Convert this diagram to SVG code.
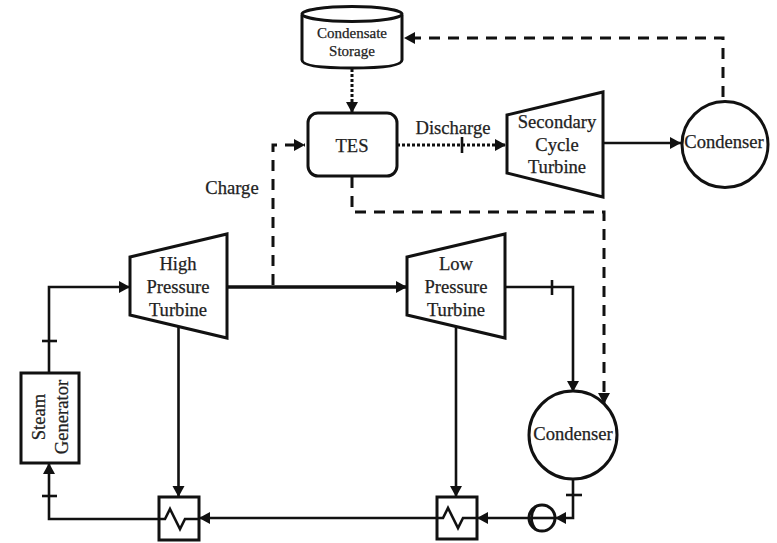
<svg xmlns="http://www.w3.org/2000/svg" width="777" height="543" viewBox="0 0 777 543">
<style>
.n{fill:#fff;stroke:#111;stroke-width:3}
.c{fill:none;stroke:#111;stroke-width:2.600}
.a{marker-end:url(#ah)}
.d{stroke-dasharray:11 8;stroke-width:3}
.o{stroke-dasharray:3 2;stroke-width:3}
.t{font-family:"Liberation Serif","Times New Roman",serif;font-size:18.600px;fill:#222;stroke:#222;stroke-width:.25;text-anchor:middle}
.s{font-size:15px}
</style>
<defs>
<marker id="ah" markerUnits="userSpaceOnUse" markerWidth="13" markerHeight="14" refX="12" refY="7" orient="auto"><path d="M1 1L12 7L1 13Z" fill="#111"/></marker>
</defs>
<rect width="777" height="543" fill="#fff"/>
<g id="connectors">
<path class="c a" d="M49 373V287H130"/>
<path class="c" d="M42 341H57"/>
<path class="c a" d="M159 519H49V463"/>
<path class="c" d="M42 496H57"/>
<path class="c a" d="M178.500 327V497"/>
<path class="c a" d="M456 327V497"/>
<path class="c a" d="M437 518H199"/>
<path class="c a" d="M529 518H477"/>
<path class="c a" d="M573 479V518H555"/>
<path class="c" d="M566 495H582"/>
<path class="c a" d="M505 287H573V392"/>
<path class="c" d="M552 280V295"/>
<path class="c a" d="M227 287H407" style="stroke-width:3.600"/>
<path class="c a d" d="M273 285V145H305"/>
<path class="c a o" d="M352 69V113"/>
<path class="c a o" d="M397 145H506"/>
<path class="c" d="M462 137V153"/>
<path class="c a" d="M603 143H681"/>
<path class="c a d" d="M723 97V38H404"/>
<path class="c a d" d="M352 177V212H604V404"/>
</g>
<g id="condensate-storage">
<path class="n" d="M302 15V60Q302 68 352 68T402 60V15"/>
<ellipse class="n" cx="352" cy="14" rx="50" ry="7.500"/>
<text class="t s" x="352" y="38">Condensate</text>
<text class="t s" x="352" y="56">Storage</text>
</g>
<g id="tes">
<rect class="n" x="308" y="113" width="89" height="63" rx="10"/>
<text class="t" x="352" y="152">TES</text>
</g>
<g id="secondary-turbine">
<path class="n" d="M507 115L603 92V197L507 173Z"/>
<text class="t" x="557" y="128">Secondary</text>
<text class="t" x="557" y="151">Cycle</text>
<text class="t" x="557" y="173">Turbine</text>
</g>
<g id="condenser-top">
<circle class="n" cx="725" cy="144.500" r="43"/>
<text class="t" x="724" y="148">Condenser</text>
</g>
<g id="high-pressure-turbine">
<path class="n" d="M130 257L227 234V338L130 315Z"/>
<text class="t" x="178" y="270">High</text>
<text class="t" x="178" y="293">Pressure</text>
<text class="t" x="178" y="316">Turbine</text>
</g>
<g id="low-pressure-turbine">
<path class="n" d="M407 257L505 234V338L407 315Z"/>
<text class="t" x="456" y="270">Low</text>
<text class="t" x="456" y="293">Pressure</text>
<text class="t" x="456" y="316">Turbine</text>
</g>
<g id="steam-generator">
<rect class="n" x="21" y="373" width="58" height="90"/>
<text class="t" transform="translate(45 417) rotate(-90)">Steam</text>
<text class="t" transform="translate(68 417) rotate(-90)">Generator</text>
</g>
<g id="condenser-bottom">
<circle class="n" cx="573" cy="435" r="44"/>
<text class="t" x="573" y="440">Condenser</text>
</g>
<g id="heat-exchanger-1">
<rect class="n" x="159" y="497" width="40" height="43"/>
<path class="c" d="M159 519H165L170 509L180 529L185 519H199"/>
</g>
<g id="heat-exchanger-2">
<rect class="n" x="437" y="497" width="40" height="42"/>
<path class="c" d="M437 518H443L448 508L458 528L463 518H477"/>
</g>
<g id="pump">
<circle class="n" cx="542" cy="518" r="13"/>
<path class="c" d="M529 518H555"/>
<path class="c" d="M536 506Q527 518 536 530"/>
</g>
<g id="labels">
<text class="t" x="232" y="194">Charge</text>
<text class="t" x="453" y="134">Discharge</text>
</g>
</svg>
